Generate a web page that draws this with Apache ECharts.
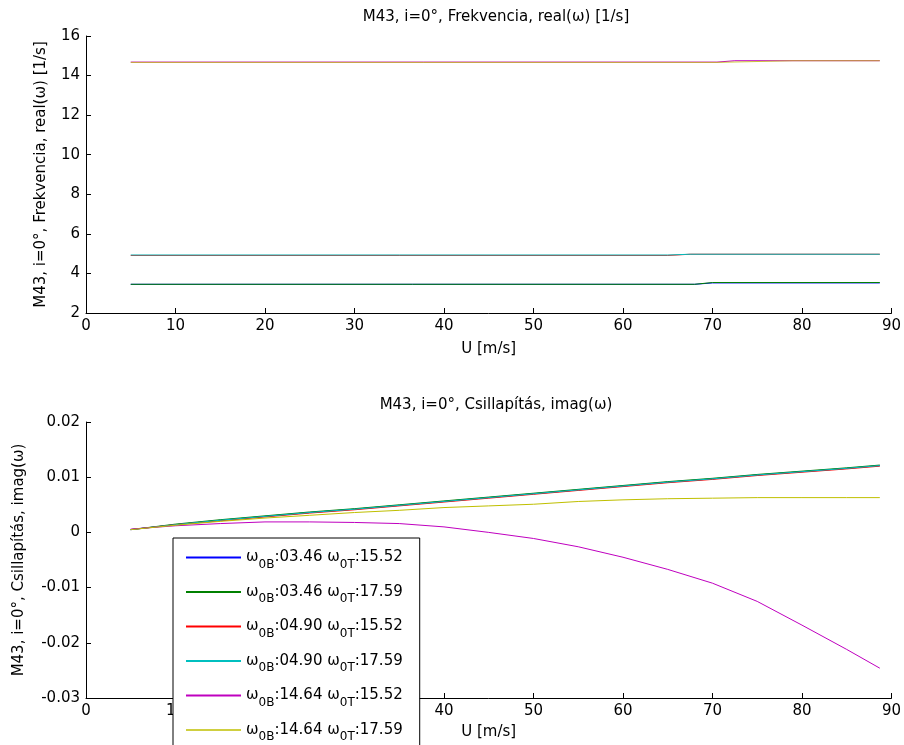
<!DOCTYPE html>
<html>
<head>
<meta charset="utf-8">
<script src="https://cdn.jsdelivr.net/npm/echarts@6/dist/echarts.min.js"></script>
<style>html,body{margin:0;padding:0;background:#fff}#c{width:904px;height:745px}</style>
</head>
<body>
<div id="c"></div>
<script>
// ---- Data ----
const names = ['blue', 'green', 'red', 'cyan', 'magenta', 'yellow'];
const legendW0B = ['03.46', '03.46', '04.90', '04.90', '14.64', '14.64'];
const legendW0T = ['15.52', '17.59', '15.52', '17.59', '15.52', '17.59'];
const colors = ['#0000ff', '#008000', '#ff0000', '#00bfbf', '#bf00bf', '#bfbf00'];

// top chart: real(omega)
const topU_B = [5, 68, 70, 88.7];
const topBlue = [3.45, 3.45, 3.52, 3.52];
const topGreen = [3.45, 3.45, 3.54, 3.54];
const topU_R = [5, 65, 67.5, 88.7];
const topRed = [4.91, 4.91, 4.97, 4.97];
const topCyan = [4.93, 4.93, 4.97, 4.97];
const topU_M = [5, 70.5, 72.5, 88.7];
const topMagenta = [14.68, 14.68, 14.75, 14.75];
const topU_Y = [5, 70.5, 79, 88.7];
const topYellow = [14.665, 14.665, 14.75, 14.75];

// bottom chart: imag(omega)
const U = [5, 10, 15, 20, 25, 30, 35, 40, 45, 50, 55, 60, 65, 70, 75, 80, 85, 88.7];
const imBlue    = [0.0005, 0.0014, 0.0022, 0.0029, 0.0036, 0.0042, 0.0049, 0.0056, 0.0063, 0.0070, 0.0077, 0.0084, 0.0091, 0.0097, 0.0104, 0.0110, 0.0116, 0.0121];
const imGreen   = [0.0005, 0.0015, 0.0023, 0.0030, 0.0037, 0.0043, 0.0050, 0.0057, 0.0064, 0.0071, 0.0078, 0.0085, 0.0092, 0.0098, 0.0105, 0.0111, 0.0117, 0.0122];
const imRed     = [0.0005, 0.0014, 0.0021, 0.0028, 0.0035, 0.0041, 0.0048, 0.0055, 0.0062, 0.0069, 0.0076, 0.0083, 0.0090, 0.0096, 0.0103, 0.0109, 0.0115, 0.0120];
const imCyan    = [0.0005, 0.0014, 0.0022, 0.0029, 0.0036, 0.0042, 0.0049, 0.0056, 0.0063, 0.0070, 0.0077, 0.0084, 0.0091, 0.0097, 0.0104, 0.0110, 0.0116, 0.0121];
const imMagenta = [0.0006, 0.0012, 0.0016, 0.0019, 0.0019, 0.0018, 0.0016, 0.0010, 0.0000, -0.0011, -0.0026, -0.0045, -0.0067, -0.0092, -0.0125, -0.0168, -0.0212, -0.0246];
const imYellow  = [0.0005, 0.0013, 0.0020, 0.0026, 0.0031, 0.0036, 0.0040, 0.0045, 0.0048, 0.0051, 0.0056, 0.0059, 0.0061, 0.0062, 0.0063, 0.0063, 0.0063, 0.0063];

// ---- Build ----
const FONT = '"DejaVu Sans", "Liberation Sans", Arial, sans-serif';
const FS = 15;
const pair = (xs, ys) => xs.map((x, i) => [x, ys[i]]);

const topData = [pair(topU_B, topBlue), pair(topU_B, topGreen), pair(topU_R, topRed), pair(topU_R, topCyan), pair(topU_M, topMagenta), pair(topU_Y, topYellow)];
const botData = [imBlue, imGreen, imRed, imCyan, imMagenta, imYellow].map(a => pair(U, a));

const series = [];
names.forEach((n, i) => {
  series.push({
    name: n, type: 'line', xAxisIndex: 0, yAxisIndex: 0, data: topData[i],
    symbol: 'none', showSymbol: false, smooth: false, animation: false,
    lineStyle: { color: colors[i], width: 1, opacity: (i === 5 ? 0.75 : 1) },
    itemStyle: { color: colors[i] }
  });
});
names.forEach((n, i) => {
  series.push({
    name: n, type: 'line', xAxisIndex: 1, yAxisIndex: 1, data: botData[i],
    symbol: 'none', showSymbol: false, smooth: false, animation: false,
    lineStyle: { color: colors[i], width: 1 },
    itemStyle: { color: colors[i] }
  });
});

const axisCommon = {
  axisLine: { show: true, onZero: false, lineStyle: { color: '#000', width: 1 } },
  axisTick: { show: true, inside: true, length: 5, lineStyle: { color: '#000' } },
  axisLabel: { color: '#000', fontSize: FS, fontFamily: FONT, margin: 6 },
  splitLine: { show: false },
  nameTextStyle: { color: '#000', fontSize: FS, fontFamily: FONT }
};

const legendMap = {};
names.forEach((n, i) => { legendMap[n] = '{a|ω}{b|0B}{a|:' + legendW0B[i] + ' ω}{b|0T}{a|:' + legendW0T[i] + '}'; });

const option = {
  backgroundColor: '#fff',
  animation: false,
  textStyle: { fontFamily: FONT },
  title: [
    { text: 'M43, i=0°, Frekvencia, real(ω) [1/s]', left: 491, top: 5, textAlign: 'center',
      textStyle: { fontSize: FS, fontWeight: 'normal', color: '#000', fontFamily: FONT } },
    { text: 'M43, i=0°, Csillapítás, imag(ω)', left: 491, top: 393, textAlign: 'center',
      textStyle: { fontSize: FS, fontWeight: 'normal', color: '#000', fontFamily: FONT } }
  ],
  grid: [
    { left: 86, width: 810, top: 36, height: 277 },
    { left: 86, width: 810, top: 422, height: 276 }
  ],
  xAxis: [
    Object.assign({}, axisCommon, { gridIndex: 0, type: 'value', min: 0, max: 90, interval: 10,
      name: 'U [m/s]', nameLocation: 'middle', nameGap: 29 }),
    Object.assign({}, axisCommon, { gridIndex: 1, type: 'value', min: 0, max: 90, interval: 10,
      name: 'U [m/s]', nameLocation: 'middle', nameGap: 27 })
  ],
  yAxis: [
    Object.assign({}, axisCommon, { gridIndex: 0, type: 'value', min: 2, max: 16, interval: 2,
      name: 'M43, i=0°, Frekvencia, real(ω) [1/s]', nameLocation: 'middle', nameGap: 37 }),
    Object.assign({}, axisCommon, { gridIndex: 1, type: 'value', min: -0.03, max: 0.02, interval: 0.01,
      name: 'M43, i=0°, Csillapítás, imag(ω)', nameLocation: 'middle', nameGap: 59,
      axisLabel: Object.assign({}, axisCommon.axisLabel, { formatter: v => String(+v.toFixed(2)) }) })
  ],
  legend: {
    data: names,
    orient: 'vertical',
    left: 173, top: 538,
    height: 240,
    backgroundColor: '#fff',
    borderColor: '#000', borderWidth: 1,
    padding: [12, 17, 30, 12],
    itemWidth: 55, itemHeight: 14, itemGap: 14,
    selectedMode: false,
    itemStyle: { opacity: 0, borderWidth: 0 },
    formatter: n => legendMap[n],
    textStyle: {
      color: '#000', fontFamily: FONT,
      rich: {
        a: { fontSize: FS, lineHeight: 26, color: '#000', fontFamily: FONT, verticalAlign: 'middle' },
        b: { fontSize: 12, lineHeight: 12, color: '#000', fontFamily: FONT, verticalAlign: 'bottom' }
      }
    },
    z: 10
  },
  series: series
};

const chart = echarts.init(document.getElementById('c'), null, { renderer: 'canvas' });
chart.setOption(option);
</script>
</body>
</html>
